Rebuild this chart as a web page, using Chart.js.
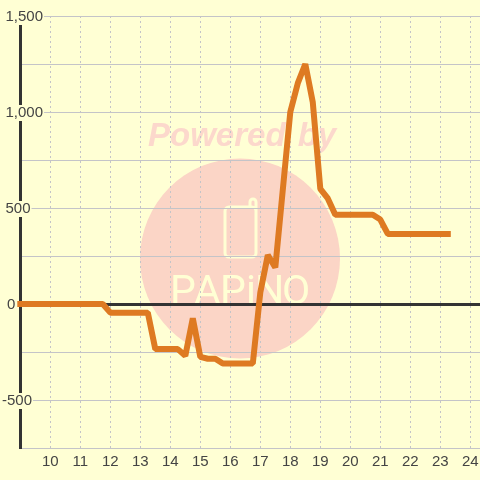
<!DOCTYPE html>
<html>
<head>
<meta charset="utf-8">
<script src="https://cdn.jsdelivr.net/npm/chart.js@4"></script>
<style>html,body{margin:0;padding:0;background:#ffffd4;overflow:hidden}canvas{display:block}</style>
</head>
<body>
<canvas id="c" width="480" height="480"></canvas>
<script>
const hours = [9,11.75,12,13.25,13.5,14.25,14.5,14.75,15,15.25,15.5,15.75,16.75,17,17.25,17.5,18,18.25,18.5,18.75,19,19.25,19.5,20.75,21,21.25,23.25];
const values = [0,0,-45,-45,-235,-235,-270,-75,-275,-285,-285,-310,-310,60,255,190,1000,1150,1250,1050,600,550,465,465,440,365,365];
const xTicks = [10,11,12,13,14,15,16,17,18,19,20,21,22,23,24];
const yLabelled = [-500,0,500,1000,1500];
const yLabelNudge = { '-500': -3.5, '0': 1.5 };
const bg = '#ffffd4', grid = '#c4c4c8', dark = '#333333', inkText = '#444444', orange = '#de7a22';

const watermark = {
  id: 'watermark',
  beforeDraw(chart) {
    const ctx = chart.ctx;
    ctx.save();
    ctx.fillStyle = bg;
    ctx.fillRect(0, 0, 480, 480);
    ctx.fillStyle = '#fbd5c6';
    ctx.beginPath();
    ctx.arc(240, 258.5, 100, 0, Math.PI * 2);
    ctx.fill();
    ctx.fillStyle = '#fcd8cc';
    ctx.font = 'italic bold 33px "Liberation Sans"';
    ctx.wordSpacing = '3px';
    ctx.textAlign = 'left';
    ctx.textBaseline = 'alphabetic';
    ctx.fillText('Powered by', 148, 146);
    ctx.wordSpacing = '0px';
    ctx.strokeStyle = '#ffffd4';
    ctx.lineWidth = 3;
    ctx.beginPath();
    ctx.roundRect(225, 207, 31, 50, 4);
    ctx.moveTo(250, 207);
    ctx.lineTo(250, 202);
    ctx.arc(253, 202, 3, Math.PI, 0);
    ctx.lineTo(256, 212);
    ctx.stroke();
    ctx.fillStyle = '#ffffd4';
    ctx.font = '400 41px Roboto';
    const letters = [['P',170],['A',194],['P',220],['i',246],['N',255],['O',282]];
    letters.forEach(([t, x]) => ctx.fillText(t, x, 304));
    ctx.restore();
  }
};

new Chart(document.getElementById('c'), {
  type: 'line',
  data: {
    datasets: [{
      data: hours.map((h, i) => ({ x: h, y: values[i] })),
      borderColor: orange,
      borderWidth: 6,
      borderCapStyle: 'square',
      borderJoinStyle: 'bevel',
      pointRadius: 0,
      tension: 0,
      fill: false,
      clip: false
    }]
  },
  options: {
    responsive: false,
    animation: false,
    events: [],
    layout: { padding: { top: 16, left: 0, right: 0, bottom: 0 } },
    plugins: { legend: { display: false }, tooltip: { enabled: false }, title: { display: false } },
    scales: {
      x: {
        type: 'linear',
        min: 8.99,
        max: 8.99 + 460 / 30,
        afterBuildTicks(s) { s.ticks = xTicks.map(v => ({ value: v })); },
        afterFit(s) { s.height = 32; s.paddingRight = 0; s.paddingLeft = 0; },
        grid: { color: grid, lineWidth: 1, drawTicks: false },
        border: { display: false, dash: [2, 3] },
        ticks: {
          autoSkip: false, maxRotation: 0, padding: 5, color: inkText,
          font: { family: '"Liberation Sans"', size: 15 },
          callback: v => String(v)
        }
      },
      y: {
        min: -750,
        max: 1500,
        afterFit(s) { s.width = 20; s.paddingTop = 0; s.paddingBottom = 0; },
        afterUpdate(s) {
          if (s._nudged) return;
          s._nudged = true;
          const compute = s._computeLabelItems.bind(s);
          s._computeLabelItems = area => {
            const items = compute(area);
            items.forEach(it => {
              const key = String(it.label).replace(',', '');
              it.options.translation = [it.options.translation[0] + (yLabelNudge[key] || 0), it.options.translation[1] + 1];
            });
            return items;
          };
        },
        grid: {
          drawTicks: false,
          color: c => (c.tick && c.tick.value === 0 ? dark : grid),
          lineWidth: c => (c.tick && c.tick.value === 0 ? 3 : 1)
        },
        border: { display: true, color: dark, width: 3 },
        ticks: {
          stepSize: 250,
          autoSkip: false,
          mirror: true,
          padding: -14.5,
          color: inkText,
          font: { family: '"Liberation Sans"', size: 15, lineHeight: 1.0667 },
          showLabelBackdrop: true,
          backdropPadding: { x: 1, y: 0 },
          backdropColor: c => (yLabelled.includes(c.tick.value) ? bg : 'rgba(0,0,0,0)'),
          callback: v => (yLabelled.includes(v) ? v.toLocaleString('en-US') : '')
        }
      }
    }
  },
  plugins: [watermark]
});
</script>
</body>
</html>
